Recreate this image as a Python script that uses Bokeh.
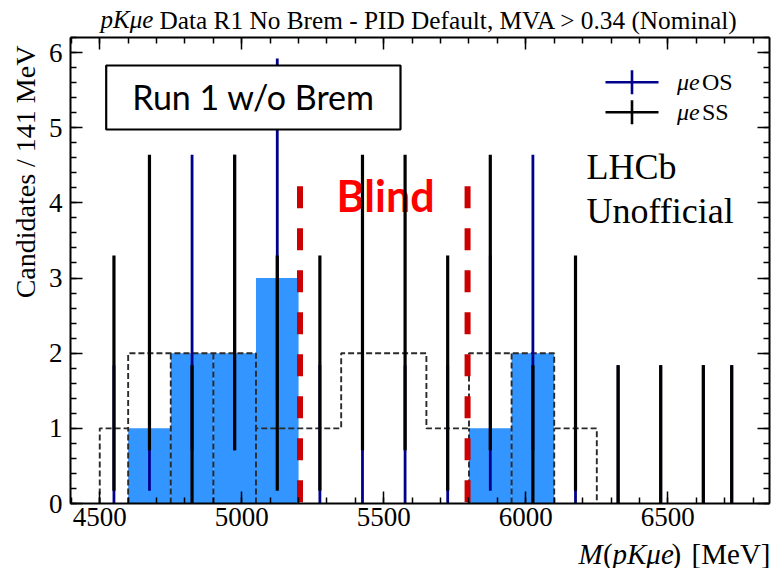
import math
from bokeh.plotting import figure
from bokeh.models import (Range1d, LinearAxis, Label, BoxAnnotation, FixedTicker,
                          CustomJSTickFormatter)
from bokeh.core.properties import value
from bokeh.embed import file_html
from bokeh.resources import INLINE

# ---------------- data ----------------
bin_centers = [4550, 4675, 4825, 4975, 5125, 5275, 5425, 5575, 5725,
               5875, 6025, 6175, 6325, 6475, 6625, 6725]
ss_counts = [1, 2, 0, 2, 1, 1, 2, 2, 1, 2, 0, 1, 0, 0, 0, 0]   # mu e SS
os_counts = [0, 1, 2, 2, 3, 0, 0, 0, 0, 1, 2, 0, 0, 0, 0, 0]   # mu e OS

# Poisson error-bar bounds for a count n (lo, hi)
poisson_lo = [0.0, 0.17, 0.71, 1.37]
poisson_hi = [1.84, 3.30, 4.64, 5.92]

# filled OS histogram
os_hist_left = [4600, 4750, 4900, 5050, 5800, 5950]
os_hist_right = [4750, 4900, 5050, 5200, 5950, 6100]
os_hist_counts = [1, 2, 2, 3, 1, 2]

# dashed histogram
dashed_edges = [4500, 4600, 4750, 4900, 5050, 5350, 5650, 5800, 5950, 6100, 6250]
dashed_counts = [1, 2, 2, 2, 1, 2, 1, 2, 2, 1]
dashed_dividers = [4600, 4750, 4900, 5050, 5800, 5950, 6100]

# blinded region
blind_edges = [5205, 5795]
blind_top = 4.22

x_major = [4500, 5000, 5500, 6000, 6500]
y_major = [0, 1, 2, 3, 4, 5, 6]

# ---------------- layout constants ----------------
W, H = 773, 568
FL, FR, FT, FB = 70, 769, 37, 503          # plot-box edges in pixels
XS, XE = 4397, 6858
YS, YE = 0.0, 6.2

def px2x(px):
    return XS + (px - FL) / (FR - FL) * (XE - XS)

def py2y(py):
    return YS + (FB - py) / (FB - FT) * (YE - YS)

SERIF = "Liberation Serif"
SANS = "Lato"

# the frame covers the whole canvas; axes are pinned at the plot-box edges
p = figure(width=W, height=H,
           x_range=Range1d(px2x(0), px2x(W)), y_range=Range1d(py2y(H), py2y(0)),
           output_backend="svg", toolbar_location=None,
           min_border_left=0, min_border_right=0, min_border_top=0,
           min_border_bottom=0, x_axis_location=None, y_axis_location=None)
p.xgrid.visible = False
p.ygrid.visible = False
p.outline_line_color = None
p.background_fill_color = "white"
p.border_fill_color = "white"

x_minor = list(range(4400, 6900, 100))
y_minor = [round(0.2 * i, 1) for i in range(32)]
blank = CustomJSTickFormatter(code="return ''")

def make_axis(side, ticks, minor, loc, bounds, show_labels):
    ax = LinearAxis(fixed_location=loc, bounds=bounds)
    ax.ticker = FixedTicker(ticks=ticks, minor_ticks=minor)
    ax.axis_line_width = 2
    ax.axis_line_color = "black"
    ax.major_tick_in = 12
    ax.major_tick_out = 0
    ax.minor_tick_in = 6
    ax.minor_tick_out = 0
    ax.major_tick_line_width = 1.5
    ax.minor_tick_line_width = 1.5
    ax.major_tick_line_color = "black"
    ax.minor_tick_line_color = "black"
    if show_labels:
        ax.major_label_text_font = SERIF
        ax.major_label_text_font_size = "27px"
        ax.major_label_text_color = "black"
    else:
        ax.formatter = blank
    p.add_layout(ax, side)
    return ax

xb = make_axis("below", x_major, x_minor, YS, (XS, XE), True)
xb.major_label_standoff = 4
yl = make_axis("left", y_major, y_minor, XS, (YS, YE), True)
yl.major_label_standoff = 8
make_axis("above", x_major, x_minor, YE, (XS, XE), False)
make_axis("right", y_major, y_minor, XE, (YS, YE), False)

# ---------------- filled OS histogram ----------------
p.quad(left=os_hist_left, right=os_hist_right, bottom=0, top=os_hist_counts,
       fill_color="#3395ff", line_color=None)

# ---------------- dashed histogram ----------------
sx, sy = [dashed_edges[0]], [0]
for i, h in enumerate(dashed_counts):
    sx += [dashed_edges[i], dashed_edges[i + 1]]
    sy += [h, h]
sx.append(dashed_edges[-1]); sy.append(0)
p.line(sx, sy, line_color="#2a2a2a", line_width=1.9, line_dash="6 3")
dv_top = []
for xd in dashed_dividers:
    i = dashed_edges.index(xd)
    dv_top.append(min(dashed_counts[i - 1], dashed_counts[i]))
p.segment(x0=dashed_dividers, x1=dashed_dividers, y0=[0] * len(dashed_dividers),
          y1=dv_top, line_color="#2a2a2a", line_width=1.9, line_dash="6 3")

# ---------------- "Blind" text (below error bars) ----------------
p.text(x=[px2x(385)], y=[py2y(195)], text=["Blind"], text_color="#ff0000",
       text_font=value(SANS), text_font_style="bold", text_font_size="43px",
       text_align="center", text_baseline="middle")

# ---------------- error bars ----------------
os_lo = [poisson_lo[n] for n in os_counts]
os_hi = [poisson_hi[n] for n in os_counts]
ss_lo = [poisson_lo[n] for n in ss_counts]
ss_hi = [poisson_hi[n] for n in ss_counts]
p.segment(x0=bin_centers, x1=bin_centers, y0=os_lo, y1=os_hi,
          line_color="#00008b", line_width=2.8)
p.segment(x0=bin_centers, x1=bin_centers, y0=ss_lo, y1=ss_hi,
          line_color="black", line_width=3.2)

# ---------------- blind lines ----------------
p.segment(x0=blind_edges, x1=blind_edges, y0=[blind_top] * 2, y1=[0, 0],
          line_color="#cc0000", line_width=6, line_dash="22 20")

# ---------------- legend ----------------
leg_x0, leg_x1, leg_xc = px2x(605), px2x(658), px2x(631.5)
for yc, col in [(81.7, "#00008b"), (111.7, "black")]:
    p.segment(x0=[leg_x0, leg_xc], x1=[leg_x1, leg_xc],
              y0=[py2y(yc), py2y(yc - 12)], y1=[py2y(yc), py2y(yc + 12)],
              line_color=col, line_width=2.6)

def lab(text, px, py, size, font=SERIF, style="normal", align="left",
        baseline="middle", color="black", angle=0.0):
    p.add_layout(Label(x=px2x(px), y=py2y(py), text=text, text_font=font,
                       text_font_size=size, text_font_style=style,
                       text_align=align, text_baseline=baseline,
                       text_color=color, angle=angle))

lab("\u03bce", 676.5, 81, "24px", style="italic")
lab("OS", 701.5, 81, "24px")
lab("\u03bce", 676.5, 111, "24px", style="italic")
lab("SS", 701.5, 111, "24px")

# ---------------- LHCb Unofficial ----------------
lab("LHCb", 586, 166, "36px")
lab("Unofficial", 586, 210, "36px")

# ---------------- Run 1 box ----------------
p.add_layout(BoxAnnotation(left=px2x(105.7), right=px2x(400), top=py2y(65),
                           bottom=py2y(129), fill_color="white", fill_alpha=1.0,
                           line_color="black", line_alpha=1.0, line_width=2.2))
lab("Run 1 w/o Brem", 253, 96, "34px", font=SANS, align="center")

# ---------------- title ----------------
lab("pK\u03bce", 100, 19, "25px", style="italic")
lab("Data R1 No Brem - PID Default, MVA > 0.34 (Nominal)", 159, 19, "25.3px")

# ---------------- axis titles ----------------
lab("Candidates / 141 MeV", 25, 171.5, "28px", align="center", angle=math.pi / 2)
lab("M", 578, 553, "29px", style="italic")
lab("(", 602.5, 553, "29px")
lab("pK\u03bce", 612, 553, "29px", style="italic")
lab(")", 671, 553, "29px")
lab("[MeV]", 770, 553, "29px", align="right")

open("out.html", "w").write(file_html(p, INLINE))
